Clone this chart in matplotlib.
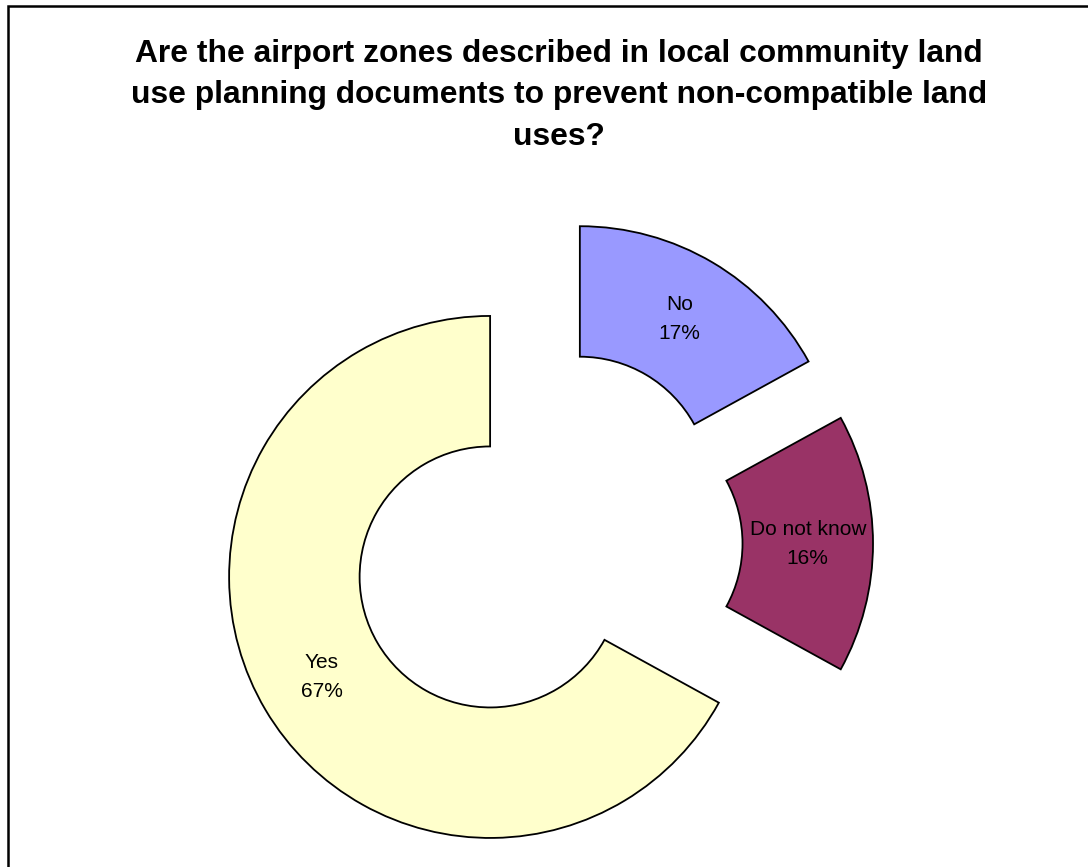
import numpy as np
import matplotlib
matplotlib.use("Agg")
import matplotlib.pyplot as plt
from matplotlib.patches import Rectangle

# Survey answers, drawn clockwise from 12 o'clock
categories = ["No", "Do not know", "Yes"]
shares = [17, 16, 67]
colors = ["#9999FF", "#993366", "#FFFFCC"]
title = ("Are the airport zones described in local community land\n"
         "use planning documents to prevent non-compatible land\n"
         "uses?")

plt.rcParams["font.family"] = ["Liberation Sans", "DejaVu Sans"]

W, H = 1088, 867
fig = plt.figure(figsize=(W / 100, H / 100), dpi=100)
fig.patch.set_facecolor("white")

# Axes spanning the whole figure, one data unit per pixel
ax = fig.add_axes([0, 0, 1, 1])
R = 261
cx, cy = 546.5, H - 543.6
gap = 0.251 * R  # every segment pulled out by a quarter of the radius
wedges, _ = ax.pie(
    shares,
    colors=colors,
    startangle=90,
    counterclock=False,
    radius=R,
    center=(cx, cy),
    explode=[gap] * len(shares),
    wedgeprops=dict(width=R * 0.5, edgecolor="black", linewidth=1.3),
)
ax.set_xlim(0, W)
ax.set_ylim(0, H)
ax.set_aspect("equal")
ax.axis("off")

# Category and share in the middle of each ring segment
for w, cat, val in zip(wedges, categories, shares):
    mid = np.deg2rad((w.theta1 + w.theta2) / 2)
    rr = w.r - w.width / 2
    x = w.center[0] + rr * np.cos(mid)
    y = w.center[1] + rr * np.sin(mid)
    ax.text(x, y, f"{cat}\n{val}%", ha="center", va="center",
            fontsize=15, linespacing=1.67, color="black")

fig.text(559 / W, 1 - 95.5 / H, title, ha="center", va="center",
         fontsize=22.9, fontweight="bold", linespacing=1.48)

# Chart-area frame
fig.add_artist(Rectangle((8 / W, -0.1), 1.2, (H - 6) / H + 0.1,
                         transform=fig.transFigure, fill=False,
                         edgecolor="black", linewidth=1.8))

fig.savefig("out.png", dpi=100, facecolor="white")
